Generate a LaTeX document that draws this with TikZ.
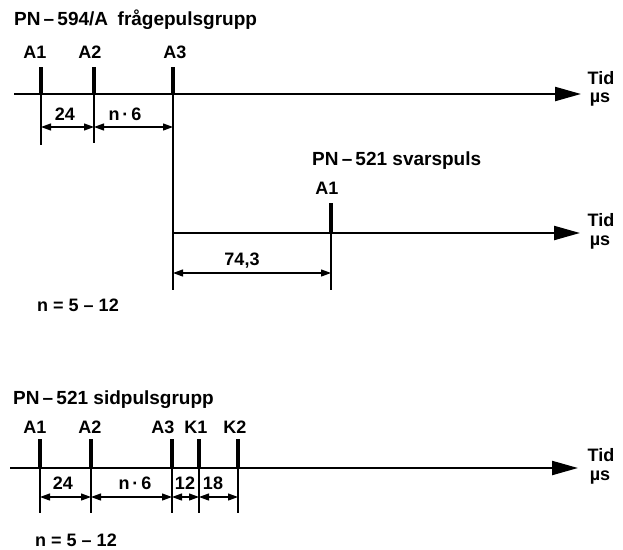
\documentclass[tikz,border=0pt]{standalone}
\usepackage{fontspec}
\setmainfont{Liberation Sans}
\usetikzlibrary{arrows.meta}
\begin{document}
\begin{tikzpicture}[x=1pt,y=-1pt,
  axis/.style={line width=2.2pt,-{Triangle[length=26pt,width=14pt]}},
  pulse/.style={line width=3.5pt},
  ext/.style={line width=1.2pt},
  dimline/.style={line width=1.2pt,{Triangle[length=10pt,width=7pt]}-{Triangle[length=10pt,width=7pt]}},
  lbl/.style={font=\fontsize{18}{21}\selectfont\bfseries,inner sep=0pt},
  ttl/.style={font=\fontsize{19}{22}\selectfont\bfseries,inner sep=0pt,anchor=west}]
\useasboundingbox (0,0) rectangle (623,549);

% ---------- top: PN-594/A
\node[ttl] (t1) at (14,20) {PN\,–\,594/A\enspace frågepulsgrupp};
\coordinate (a1s) at (14,94);
\coordinate (a1e) at (581,94);
\draw[axis] (a1s) -- (a1e);
\node[lbl] (tid1) at (601,78) {Tid};
\node[lbl] (us1) at (600,100) {µs};

\coordinate (p1) at (41,94);
\coordinate (p2) at (94,94);
\coordinate (p3) at (173,94);
\draw[pulse] (p1) -- ++(0,-27);
\draw[pulse] (p2) -- ++(0,-27);
\draw[pulse] (p3) -- ++(0,-27);
\node[lbl] (lA1) at (35,52) {A1};
\node[lbl] (lA2) at (90,52) {A2};
\node[lbl] (lA3) at (175,52) {A3};

\coordinate (e1) at (41,145);
\coordinate (e2) at (94,143);
\coordinate (e3) at (173,290);
\draw[ext] (p1) -- (e1);
\draw[ext] (p2) -- (e2);
\draw[ext] (p3) -- (e3);
\coordinate (d1) at (41,127);
\coordinate (d2) at (94,127);
\coordinate (d3) at (173,127);
\draw[dimline] (d1) -- (d2);
\draw[dimline] (d2) -- (d3);
\node[lbl] (v24a) at (65,114) {24};
\node[lbl] (vn6a) at (125,114) {n\,·\,6};

% ---------- middle: PN-521 svarspuls
\node[ttl] (t2) at (312,161) {PN\,–\,521 svarspuls};
\coordinate (b1s) at (173,233);
\coordinate (b1e) at (580,233);
\draw[axis] (b1s) -- (b1e);
\node[lbl] (tid2) at (601,220) {Tid};
\node[lbl] (us2) at (600,243) {µs};
\coordinate (q1) at (331,233);
\draw[pulse] (q1) -- ++(0,-30);
\node[lbl] (lB1) at (327,188) {A1};
\coordinate (f1) at (331,290);
\draw[ext] (q1) -- (f1);
\coordinate (g0) at (173,273);
\coordinate (g1) at (331,273);
\draw[dimline] (g0) -- (g1);
\node[lbl] (v743) at (242,261) {74,3};
\node[lbl] (n1) at (78,305) {n\ =\ 5\ –\ 12};

% ---------- bottom: PN-521 sidpulsgrupp
\node[ttl] (t3) at (13,400) {PN\,–\,521 sidpulsgrupp};
\coordinate (c1s) at (10,468);
\coordinate (c1e) at (578,468);
\draw[axis] (c1s) -- (c1e);
\node[lbl] (tid3) at (601,455) {Tid};
\node[lbl] (us3) at (600,478) {µs};

\coordinate (r1) at (40,468);
\coordinate (r2) at (91,468);
\coordinate (r3) at (172,468);
\coordinate (r4) at (199,468);
\coordinate (r5) at (238,468);
\foreach \r in {r1,r2,r3,r4,r5} \draw[pulse] (\r) -- ++(0,-29);
\node[lbl] (lC1) at (35,427) {A1};
\node[lbl] (lC2) at (90,427) {A2};
\node[lbl] (lC3) at (163,427) {A3};
\node[lbl] (lK1) at (196,427) {K1};
\node[lbl] (lK2) at (235,427) {K2};

\coordinate (h1) at (40,513);
\coordinate (h2) at (91,513);
\coordinate (h3) at (172,513);
\coordinate (h4) at (199,513);
\coordinate (h5) at (238,513);
\draw[ext] (r1) -- (h1);
\draw[ext] (r2) -- (h2);
\draw[ext] (r3) -- (h3);
\draw[ext] (r4) -- (h4);
\draw[ext] (r5) -- (h5);
\coordinate (k1) at (40,497);
\coordinate (k2) at (91,497);
\coordinate (k3) at (172,497);
\coordinate (k4) at (199,497);
\coordinate (k5) at (238,497);
\draw[dimline] (k1) -- (k2);
\draw[dimline] (k2) -- (k3);
\draw[dimline] (k3) -- (k4);
\draw[dimline] (k4) -- (k5);
\node[lbl] (v24b) at (63,483) {24};
\node[lbl] (vn6b) at (135,483) {n\,·\,6};
\node[lbl] (v12) at (185,483) {12};
\node[lbl] (v18) at (213,483) {18};
\node[lbl] (n2) at (76,540) {n\ =\ 5\ –\ 12};
\end{tikzpicture}
\end{document}
